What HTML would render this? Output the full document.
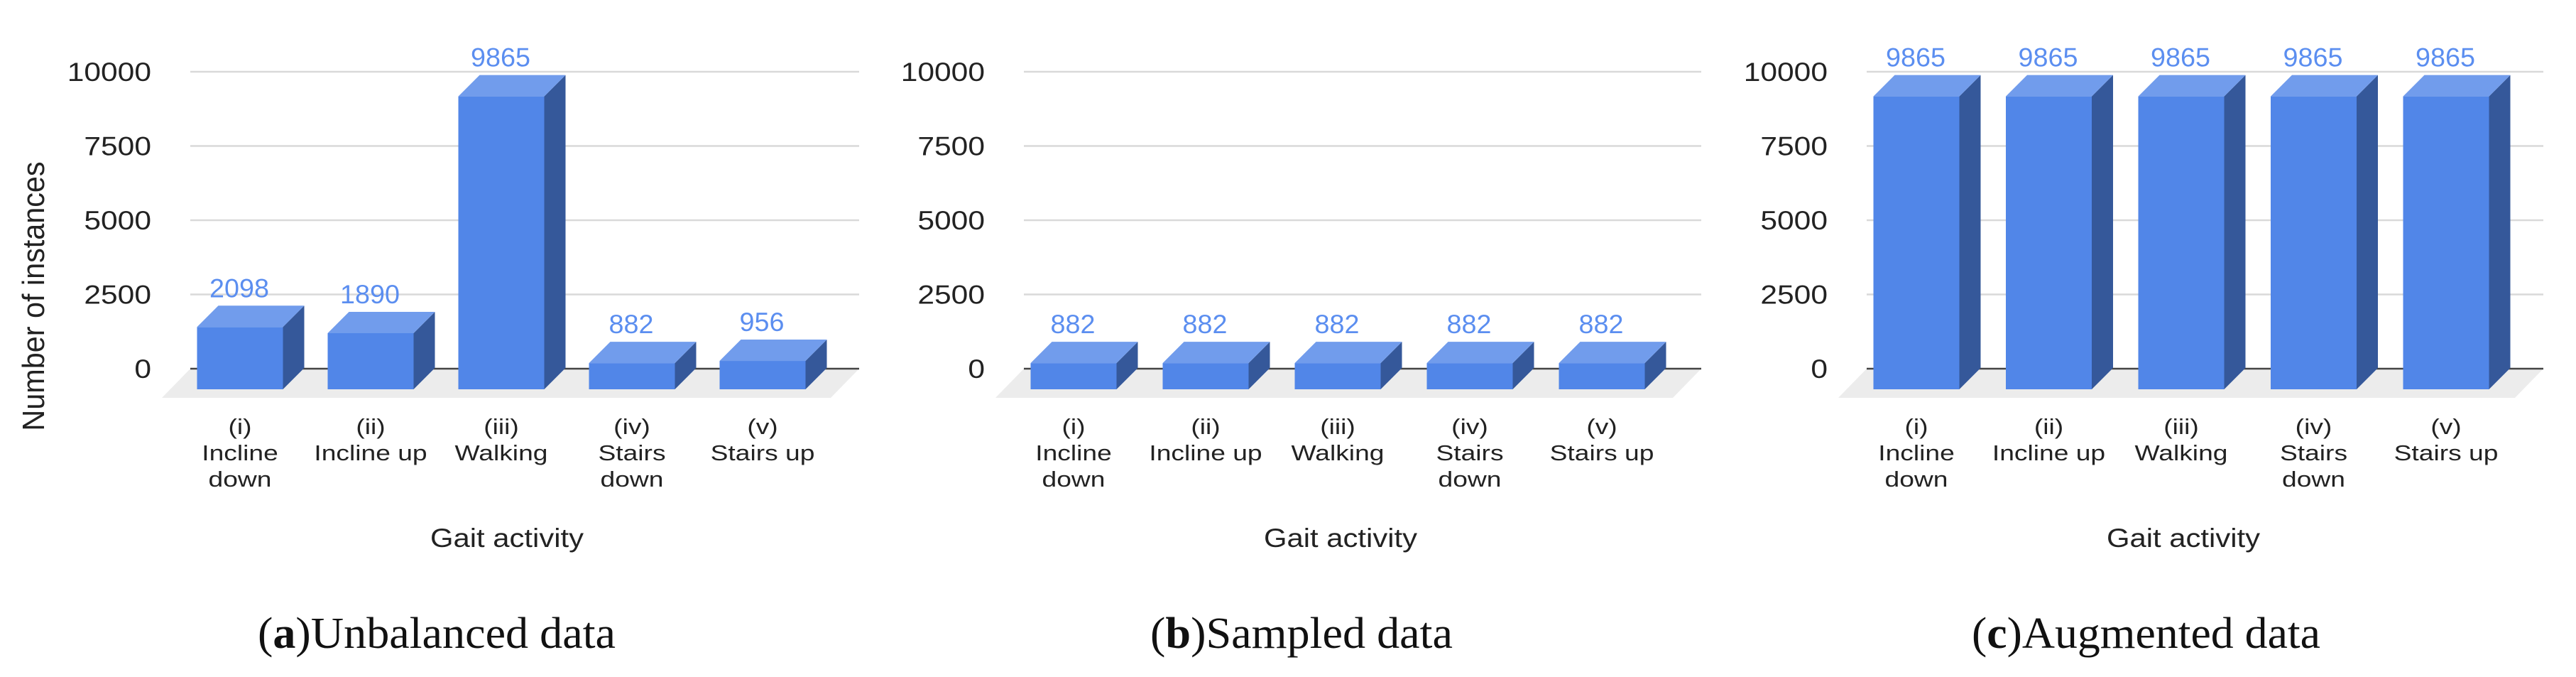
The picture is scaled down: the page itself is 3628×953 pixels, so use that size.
<!DOCTYPE html>
<html><head><meta charset="utf-8"><style>
html,body{margin:0;padding:0;background:#fff;}
svg{display:block;}
</style></head><body>
<svg id="fig" width="3628" height="953" viewBox="0 0 3628 953" xmlns="http://www.w3.org/2000/svg" font-family="'Liberation Sans', Arial, sans-serif"></svg>
<script>
const categoryRoman = ["(i)", "(ii)", "(iii)", "(iv)", "(v)"];
const categoryLine1 = ["Incline", "Incline up", "Walking", "Stairs", "Stairs up"];
const categoryLine2 = ["down", "", "", "down", ""];
const unbalancedValues = [2098, 1890, 9865, 882, 956];
const sampledValues = [882, 882, 882, 882, 882];
const augmentedValues = [9865, 9865, 9865, 9865, 9865];
const yTickValues = [0, 2500, 5000, 7500, 10000];
const yTickLabels = ["0", "2500", "5000", "7500", "10000"];
const panelCaptionLetters = ["a", "b", "c"];
const panelCaptionTexts = ["Unbalanced data", "Sampled data", "Augmented data"];

const NS = "http://www.w3.org/2000/svg";
const svg = document.getElementById("fig");
function mk(tag, attrs, parent) {
  const e = document.createElementNS(NS, tag);
  for (const k in attrs) e.setAttribute(k, attrs[k]);
  (parent || svg).appendChild(e);
  return e;
}
const Y0 = 519, PX_PER_UNIT = 104.5 / 2500, DX = 30, DY = 30, FACE_W = 121, FRONT_OFF = 29;
function yScale(v) { return Y0 - v * PX_PER_UNIT; }

const panels = [
  { L: 268, W: 942, step: 184, values: unbalancedValues, capX: 363, capW: 504 },
  { L: 1442, W: 954, step: 186, values: sampledValues, capX: 1620, capW: 426 },
  { L: 2629, W: 953, step: 186.5, values: augmentedValues, capX: 2777, capW: 491 }
];

panels.forEach((p, pi) => {
  const g = mk("g", {});
  
  
  function xCenter(i) { return p.L + 70 + i * p.step; }

  const floor = mk("polygon", { points: `${p.L},${Y0} ${p.L + p.W},${Y0} ${p.L + p.W - 40},${Y0 + 41} ${p.L - 40},${Y0 + 41}`, fill: "#ececec" }, g);
  
  

  yTickValues.forEach((v, ti) => {
    const y = yScale(v);
    if (v !== 0) {
      const gl = mk("line", { x1: p.L, x2: p.L + p.W, y1: y, y2: y, stroke: "#d9d9d9", "stroke-width": 2.5 }, g);
      
      
    }
    const t = mk("text", { x: 0, y: 0, "font-size": 37, fill: "#222", "text-anchor": "end",
      transform: `translate(${p.L - 55},${y + 13}) scale(1.15,1)` }, g);
    t.textContent = yTickLabels[ti];
    
    
  });
  const zl = mk("line", { x1: p.L, x2: p.L + p.W, y1: Y0, y2: Y0, stroke: "#444", "stroke-width": 2.5 }, g);
  
  

  p.values.forEach((v, i) => {
    const cx = xCenter(i);
    const x0 = cx - FACE_W / 2, x1 = cx + FACE_W / 2;
    const yb = Y0 + FRONT_OFF;
    const yt = yb - v * PX_PER_UNIT;
    const bg = mk("g", {}, g);
    
    
    mk("polygon", { points: `${x1},${yt} ${x1 + DX},${yt - DY} ${x1 + DX},${yb - DY} ${x1},${yb}`, fill: "#35589a" }, bg);
    mk("polygon", { points: `${x0},${yt} ${x0 + DX},${yt - DY} ${x1 + DX},${yt - DY} ${x1},${yt}`, fill: "#719cec" }, bg);
    mk("rect", { x: x0, y: yt, width: FACE_W, height: yb - yt, fill: "#5186e8" }, bg);
    const vl = mk("text", { x: 0, y: 0, "font-size": 37, fill: "#5b8ef0", "text-anchor": "middle",
      transform: `translate(${cx - 1},${yt - DY - 12}) scale(1.02,1)` }, g);
    vl.textContent = String(v);
    
    

    [categoryRoman[i], categoryLine1[i], categoryLine2[i]].forEach((s, li) => {
      if (!s) return;
      const cl = mk("text", { x: 0, y: 0, "font-size": 31, fill: "#222", "text-anchor": "middle",
        transform: `translate(${cx},${611 + li * 37}) scale(1.2,1)` }, g);
      cl.textContent = s;
      
      
    });
  });

  const xt = mk("text", { x: 0, y: 0, "font-size": 37, fill: "#222", "text-anchor": "middle",
    transform: `translate(${p.L + 446},${770}) scale(1.13,1)` }, g);
  xt.textContent = "Gait activity";
  
  

  const cap = mk("text", { x: p.capX, y: 912, "font-size": 62, fill: "#111",
    "font-family": "'Liberation Serif', serif", textLength: p.capW, lengthAdjust: "spacingAndGlyphs" }, g);
  
  
  const t1 = mk("tspan", {}, cap); t1.textContent = "(";
  const t2 = mk("tspan", { "font-weight": "bold" }, cap); t2.textContent = panelCaptionLetters[pi];
  const t3 = mk("tspan", {}, cap); t3.textContent = ")" + panelCaptionTexts[pi];
});

const yt = mk("text", { x: 0, y: 0, "font-size": 44, fill: "#222", "text-anchor": "middle",
  transform: "translate(62,417) rotate(-90) scale(0.94,1)" });
yt.textContent = "Number of instances";


</script>
</body></html>
